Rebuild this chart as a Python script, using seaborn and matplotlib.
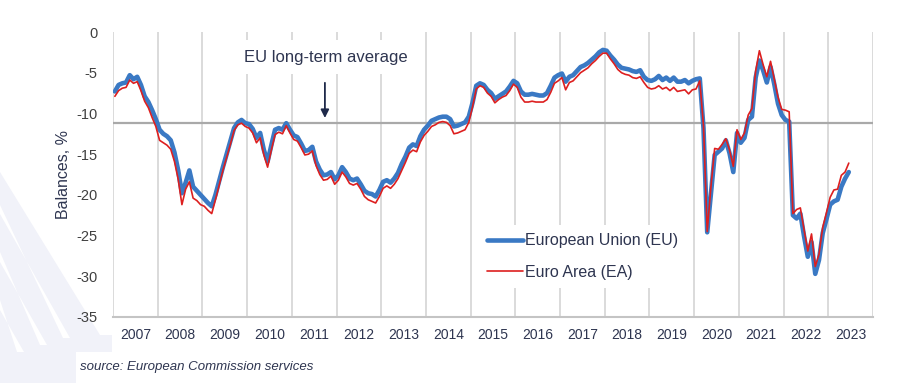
import numpy as np
import pandas as pd
import matplotlib.pyplot as plt
import seaborn as sns
from matplotlib.patches import Polygon

# monthly balances, Jan 2007 .. Jun 2023 (one row per year)
start_year = 2007
eu_values = [
    -7.3, -6.5, -6.3, -6.2, -5.3, -5.8, -5.5, -6.5, -7.9, -8.6, -9.6, -10.7,
    -12.0, -12.5, -12.8, -13.3, -14.8, -17.0, -19.8, -18.5, -17.0, -19.0, -19.5, -20.0,
    -20.5, -21.0, -21.4, -20.0, -18.3, -16.6, -15.0, -13.4, -11.8, -11.1, -10.8, -11.2,
    -11.3, -11.9, -13.0, -12.4, -14.5, -15.9, -13.9, -12.0, -11.8, -12.0, -11.2, -12.0,
    -12.7, -12.9, -13.7, -14.6, -14.5, -14.1, -15.9, -16.9, -17.6, -17.5, -17.2, -18.1,
    -17.6, -16.6, -17.2, -18.0, -18.2, -18.0, -18.7, -19.5, -19.8, -19.9, -20.2, -19.4,
    -18.4, -18.2, -18.5, -18.0, -17.3, -16.2, -15.3, -14.2, -13.8, -14.0, -12.8, -12.0,
    -11.5, -10.9, -10.7, -10.5, -10.4, -10.4, -10.7, -11.6, -11.5, -11.3, -11.1, -10.4,
    -8.7, -6.6, -6.3, -6.5, -7.1, -7.5, -8.2, -7.9, -7.6, -7.3, -6.7, -6.0,
    -6.3, -7.3, -7.7, -7.7, -7.6, -7.7, -7.8, -7.8, -7.5, -6.6, -5.6, -5.3,
    -5.1, -6.1, -5.5, -5.3, -4.8, -4.3, -4.1, -3.8, -3.4, -3.0, -2.5, -2.2,
    -2.3, -2.9, -3.4, -4.0, -4.4, -4.5, -4.6, -4.8, -4.9, -4.7, -5.5, -5.9,
    -6.0, -5.8, -5.4, -5.9, -5.6, -6.0, -5.6, -6.1, -6.1, -5.9, -6.3, -6.0,
    -5.8, -5.7, -11.8, -24.6, -19.8, -15.1, -14.7, -14.3, -13.3, -14.9, -17.2, -12.4,
    -13.6, -13.0, -10.8, -10.4, -5.6, -3.5, -4.7, -6.2, -4.3, -6.4, -8.8, -10.2,
    -10.8, -11.0, -22.5, -22.9, -22.3, -25.1, -27.6, -25.8, -29.7, -28.0, -24.7, -23.0,
    -21.2, -20.8, -20.6, -19.0, -18.0, -17.2,
]
ea_values = [
    -7.9, -7.2, -6.9, -6.8, -5.9, -6.3, -6.1, -7.2, -8.5, -9.3, -10.5, -11.6,
    -13.3, -13.6, -13.9, -14.4, -15.9, -18.1, -21.2, -19.3, -18.4, -20.4, -20.7, -21.2,
    -21.4, -21.9, -22.3, -20.6, -18.8, -17.0, -15.4, -13.8, -12.1, -11.4, -11.2, -11.6,
    -11.8, -12.4, -13.6, -13.0, -15.1, -16.6, -14.5, -12.6, -12.3, -12.5, -11.5, -12.4,
    -13.2, -13.4, -14.2, -15.1, -15.0, -14.6, -16.4, -17.5, -18.2, -18.1, -17.7, -18.7,
    -18.2, -17.2, -17.8, -18.6, -18.8, -18.6, -19.3, -20.2, -20.6, -20.8, -21.0, -20.2,
    -19.2, -18.9, -19.2, -18.7, -18.0, -17.0, -16.0, -14.9, -14.5, -14.7, -13.5, -12.7,
    -12.2, -11.6, -11.4, -11.1, -11.0, -11.1, -11.5, -12.5, -12.4, -12.2, -12.0, -11.1,
    -9.2, -7.0, -6.6, -6.8, -7.5, -7.9, -8.7, -8.3, -8.0, -7.8, -7.2, -6.4,
    -6.8, -8.0, -8.6, -8.6, -8.5, -8.6, -8.6, -8.6, -8.3, -7.4, -6.3, -6.0,
    -5.6, -7.1, -6.2, -6.0, -5.5, -5.0, -4.7, -4.4, -3.9, -3.5, -3.0, -2.6,
    -2.6, -3.3, -3.9, -4.6, -5.0, -5.2, -5.3, -5.6, -5.7, -5.5, -6.2, -6.8,
    -7.0, -6.9, -6.6, -7.0, -6.8, -7.2, -6.8, -7.3, -7.2, -7.1, -7.6, -7.1,
    -7.0, -6.0, -11.5, -24.5, -19.0, -14.3, -14.4, -13.8, -13.1, -14.5, -16.5, -12.0,
    -13.2, -12.4, -10.2, -9.4, -4.8, -2.3, -4.0, -5.5, -3.6, -5.8, -8.0, -9.5,
    -9.6, -9.8, -22.3, -21.8, -21.6, -24.3, -26.9, -24.8, -28.8, -27.3, -24.0, -22.2,
    -20.3, -19.4, -19.3, -17.6, -17.2, -16.1,
]
long_term_avg = -11.2
year_labels = [str(y) for y in range(2007, 2024)]
y_ticks = [0, -5, -10, -15, -20, -25, -30, -35]

sns.set_theme(style="white")
plt.rcParams['font.family'] = ['Liberation Sans', 'DejaVu Sans']

t = [start_year + (i + 0.5) / 12 for i in range(len(eu_values))]
df = pd.DataFrame({'t': t, 'EU': eu_values, 'EA': ea_values})

BLUE = '#3a79c4'
RED = '#dd1f1f'
TXT = '#2e3550'

fig = plt.figure(figsize=(9, 3.86), dpi=100)
W, H = 900, 386


def _fig_poly(pts, color):
    fig.patches.append(Polygon([(x / W, 1 - y / H) for x, y in pts], closed=True,
                               transform=fig.transFigure, facecolor=color,
                               edgecolor='none', zorder=-2))


# pale decorative band in the bottom-left corner, with white stripes across it
_fig_poly([(0, 172), (100, 335), (112, 335), (112, 352), (76, 352), (76, 383), (0, 383)], '#f1f2f9')
_fig_poly([(0, 205), (0, 214), (70, 338), (63, 338)], 'white')
_fig_poly([(0, 252), (0, 262), (47, 345), (40, 345)], 'white')
_fig_poly([(0, 300), (0, 310), (24, 352), (17, 352)], 'white')

ax = fig.add_axes([113 / W, 1 - 317 / H, 760 / W, 285 / H])
ax.patch.set_alpha(0)

ax.axhline(long_term_avg, color='#a9a9a9', lw=1.6, zorder=1)
sns.lineplot(data=df, x='t', y='EU', color=BLUE, lw=3.3, label='European Union (EU)', ax=ax, zorder=3)
sns.lineplot(data=df, x='t', y='EA', color=RED, lw=1.2, label='Euro Area (EA)', ax=ax, zorder=4)

ax.set_xlim(2007, 2024)
ax.set_ylim(-35, 0)
ax.set_xticks([y + 0.5 for y in range(2007, 2024)])
ax.set_xticklabels(year_labels)
ax.set_xticks(range(2007, 2025), minor=True)
ax.set_yticks(y_ticks)
ax.set_yticklabels([str(v) for v in y_ticks])
ax.grid(which='minor', axis='x', color='#d4d4d4', lw=1.2, zorder=0)
ax.grid(which='major', axis='x', visible=False)
ax.tick_params(axis='both', which='both', length=0)
ax.tick_params(axis='x', pad=8, labelsize=10, labelcolor=TXT)
ax.tick_params(axis='y', pad=11, labelsize=10.5, labelcolor='#404040')
for s in ['top', 'right', 'left']:
    ax.spines[s].set_visible(False)
ax.spines['bottom'].set_color('#c4c4c4')
ax.spines['bottom'].set_linewidth(1.5)

ax.set_xlabel('')
ax.set_ylabel('Balances, %', fontsize=11.5, color=TXT, labelpad=4)

ax.text(2011.76, -3.1, 'EU long-term average', ha='center', va='center', fontsize=12,
        color=TXT, zorder=5, bbox=dict(facecolor='white', edgecolor='none', pad=7))
ax.annotate('', xy=(2011.74, -10.9), xytext=(2011.74, -5.9),
            arrowprops=dict(arrowstyle='-|>', color='#1f2a4a', lw=1.3, mutation_scale=12), zorder=5)

leg = ax.legend(loc='upper left', bbox_to_anchor=(0.481, 0.322), frameon=True, fancybox=False,
                framealpha=1, facecolor='white', edgecolor='none', fontsize=11.5,
                handlelength=2.3, handletextpad=0.1, labelspacing=1.05, borderpad=0.5,
                borderaxespad=0)
for txt in leg.get_texts():
    txt.set_color(TXT)
leg.set_zorder(6)

fig.text(80 / W, 1 - 367 / H, 'source: European Commission services', fontsize=9.5,
         style='italic', color=TXT, va='center', ha='left')

fig.savefig('out.png', dpi=100)
